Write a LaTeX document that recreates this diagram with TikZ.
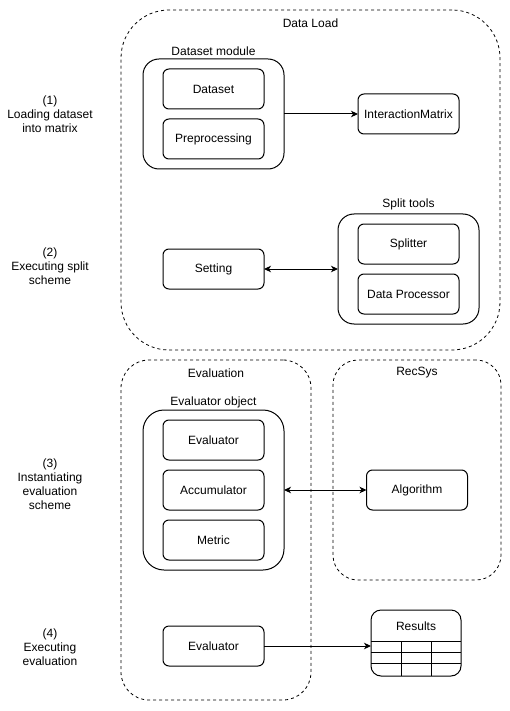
\documentclass[tikz,border=0pt]{standalone}
\usepackage{fontspec}
\setmainfont{Liberation Sans}
\usetikzlibrary{arrows.meta,calc}
\begin{document}
\begin{tikzpicture}[x=1pt,y=-1pt,
  every node/.style={font=\fontsize{12}{14}\selectfont},
  box/.style={draw, line width=1pt, rounded corners=6pt, minimum width=101pt, minimum height=40pt, inner sep=0pt, outer sep=0pt},
  group/.style={draw, line width=1pt, inner sep=0pt, outer sep=0pt},
  zone/.style={draw, line width=0.8pt, dash pattern=on 3pt off 3pt, inner sep=0pt, outer sep=0pt},
  txt/.style={inner sep=0pt, align=center},
  arr/.style={line width=1pt, -{Stealth[length=7pt,width=6.5pt,inset=2pt]}},
  darr/.style={line width=1pt, {Stealth[length=7pt,width=6.5pt,inset=2pt]}-{Stealth[length=7pt,width=6.5pt,inset=2pt]}}
]
\useasboundingbox (0,0) rectangle (510,711);

% Data Load zone
\node[zone, rounded corners=48pt, minimum width=379pt, minimum height=340pt] (dataload) at (310.5,180) {};
\node[txt] (dlLabel) at (310.5,23) {Data Load};

\node[group, rounded corners=16pt, minimum width=141pt, minimum height=110pt] (dsmod) at (213.5,114) {};
\node[txt] (dsmodLabel) at (213.5,51) {Dataset module};
\node[box] (dataset) at (213.5,89) {Dataset};
\node[box] (prep) at (213.5,139) {Preprocessing};
\node[box] (imat) at (408.5,114) {InteractionMatrix};

\node[box] (setting) at (213.5,269) {Setting};
\node[group, rounded corners=16pt, minimum width=141pt, minimum height=110pt] (split) at (408.5,269) {};
\node[txt] (splitLabel) at (408.5,204) {Split tools};
\node[box] (splitter) at (408.5,244) {Splitter};
\node[box] (dproc) at (408.5,294) {Data Processor};

% Evaluation zone
\node[zone, rounded corners=28pt, minimum width=190pt, minimum height=340pt] (evaluation) at (216,530) {};
\node[txt] (evalLabel) at (216,373) {Evaluation};
\node[group, rounded corners=21pt, minimum width=141pt, minimum height=160pt] (evobj) at (213.5,490) {};
\node[txt] (evobjLabel) at (213.5,402) {Evaluator object};
\node[box] (evaluator) at (213.5,440) {Evaluator};
\node[box] (accum) at (213.5,490) {Accumulator};
\node[box] (metric) at (213.5,540) {Metric};
\node[box] (evaluator2) at (213.5,646) {Evaluator};

% RecSys zone
\node[zone, rounded corners=25pt, minimum width=168pt, minimum height=220pt] (recsys) at (417,470) {};
\node[txt] (recLabel) at (417,373) {RecSys};
\node[box] (algo) at (417,490) {Algorithm};

% Results table
\node[group, rounded corners=10pt, minimum width=90pt, minimum height=66pt] (results) at (416,643) {};
\node[txt] (resLabel) at (416,626) {Results};
\coordinate (rnw) at (results.north west);
\draw[line width=1pt]
  ($(rnw)+(0,31)$) -- ($(rnw)+(90,31)$)
  ($(rnw)+(0,42)$) -- ($(rnw)+(90,42)$)
  ($(rnw)+(0,53)$) -- ($(rnw)+(90,53)$)
  ($(rnw)+(30,31)$) -- ($(rnw)+(30,66)$)
  ($(rnw)+(60,31)$) -- ($(rnw)+(60,66)$);

% Step labels
\node[txt] (lab1) at (50,114) {(1)\\Loading dataset\\into matrix};
\node[txt] (lab2) at (50,266) {(2)\\Executing split\\scheme};
\node[txt] (lab3) at (50,484) {(3)\\Instantiating\\evaluation\\scheme};
\node[txt] (lab4) at (50,647) {(4)\\Executing\\evaluation};

% Connectors
\draw[arr] (dsmod.east) -- (imat.west);
\draw[darr] (setting.east) -- (split.west);
\draw[darr] (evobj.east) -- (algo.west);
\draw[arr] (evaluator2.east) -- (evaluator2.east -| results.west);
\end{tikzpicture}
\end{document}
